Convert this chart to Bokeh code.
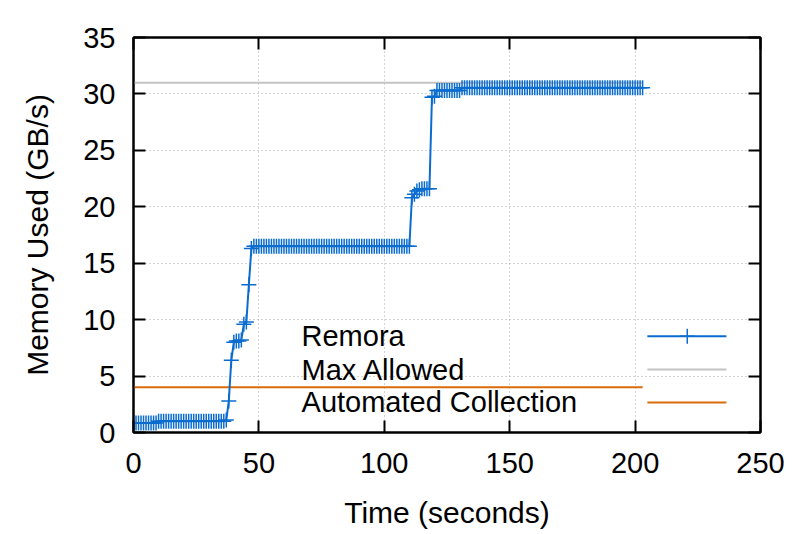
from bokeh.plotting import figure
from bokeh.models import LinearAxis, FixedTicker, Range1d
from bokeh.embed import file_html
from bokeh.resources import INLINE

# ---- data ----
time_s = list(range(0, 204))
remora = [
    0.85, 0.85, 0.85, 0.85, 0.85, 0.85, 0.85, 0.85, 0.85, 0.85,
    1.0, 1.0, 1.0, 1.0, 1.0, 1.0, 1.0, 1.0, 1.0, 1.0,
    1.0, 1.0, 1.0, 1.0, 1.0, 1.0, 1.0, 1.0, 1.0, 1.0,
    1.0, 1.0, 1.0, 1.0, 1.0, 1.0, 1.0, 1.1, 2.8, 6.4,
    8.0, 8.1, 8.1, 8.2, 9.6, 9.8, 13.1, 16.3, 16.5, 16.5,
    16.5, 16.5, 16.5, 16.5, 16.5, 16.5, 16.5, 16.5, 16.5, 16.5,
    16.5, 16.5, 16.5, 16.5, 16.5, 16.5, 16.5, 16.5, 16.5, 16.5,
    16.5, 16.5, 16.5, 16.5, 16.5, 16.5, 16.5, 16.5, 16.5, 16.5,
    16.5, 16.5, 16.5, 16.5, 16.5, 16.5, 16.5, 16.5, 16.5, 16.5,
    16.5, 16.5, 16.5, 16.5, 16.5, 16.5, 16.5, 16.5, 16.5, 16.5,
    16.5, 16.5, 16.5, 16.5, 16.5, 16.5, 16.5, 16.5, 16.5, 16.5,
    16.5, 20.8, 21.1, 21.4, 21.5, 21.6, 21.6, 21.6, 21.6, 29.7,
    29.8, 30.3, 30.3, 30.3, 30.3, 30.3, 30.3, 30.3, 30.3, 30.3,
    30.3, 30.55, 30.55, 30.55, 30.55, 30.55, 30.55, 30.55, 30.55, 30.55,
    30.55, 30.55, 30.55, 30.55, 30.55, 30.55, 30.55, 30.55, 30.55, 30.55,
    30.55, 30.55, 30.55, 30.55, 30.55, 30.55, 30.55, 30.55, 30.55, 30.55,
    30.55, 30.55, 30.55, 30.55, 30.55, 30.55, 30.55, 30.55, 30.55, 30.55,
    30.55, 30.55, 30.55, 30.55, 30.55, 30.55, 30.55, 30.55, 30.55, 30.55,
    30.55, 30.55, 30.55, 30.55, 30.55, 30.55, 30.55, 30.55, 30.55, 30.55,
    30.55, 30.55, 30.55, 30.55, 30.55, 30.55, 30.55, 30.55, 30.55, 30.55,
    30.55, 30.55, 30.55, 30.55,
]
max_allowed = 31.0
automated_collection = 4.0
x_ticks = [0, 50, 100, 150, 200, 250]
y_ticks = [0, 5, 10, 15, 20, 25, 30, 35]
series_names = ["Remora", "Max Allowed", "Automated Collection"]

# ---- styles ----
FONT = "Liberation Sans"
BLUE = "#0b6ccf"
GRAY = "#c3c3c3"
ORANGE = "#d86c0a"

p = figure(width=799, height=534, output_backend="svg", toolbar_location=None,
           x_range=Range1d(0, 250), y_range=Range1d(0, 35),
           min_border_left=133, min_border_right=39, min_border_top=37,
           min_border_bottom=102)
p.background_fill_color = "white"
p.border_fill_color = "white"
p.outline_line_color = "black"
p.outline_line_width = 2

xt = FixedTicker(ticks=x_ticks)
yt = FixedTicker(ticks=y_ticks)

def style_axis(ax, show_labels):
    ax.axis_line_color = "black"
    ax.axis_line_width = 2
    ax.major_tick_line_color = "black"
    ax.major_tick_line_width = 2
    ax.major_tick_in = 12
    ax.major_tick_out = 0
    ax.minor_tick_line_color = None
    ax.major_label_text_font = FONT
    ax.axis_label_text_font = FONT
    ax.axis_label_text_font_style = "normal"
    ax.axis_label_text_color = "black"
    if show_labels:
        ax.major_label_text_color = "black"
        ax.major_label_text_font_size = "29px"
        ax.axis_label_text_font_size = "30px"
    else:
        ax.major_label_text_color = None
        ax.major_label_text_font_size = "10px"
        ax.major_label_standoff = 0

p.xaxis.ticker = xt
p.yaxis.ticker = yt
style_axis(p.xaxis[0], True)
style_axis(p.yaxis[0], True)
p.xaxis.axis_label = "Time (seconds)"
p.yaxis.axis_label = "Memory Used (GB/s)"
p.xaxis.major_label_standoff = 20
p.xaxis.axis_label_standoff = 20
p.yaxis.major_label_standoff = 18
p.yaxis.axis_label_standoff = 26

top = LinearAxis(ticker=xt)
style_axis(top, False)
p.add_layout(top, "above")
right = LinearAxis(ticker=yt)
style_axis(right, False)
p.add_layout(right, "right")

for g, tk in ((p.xgrid, xt), (p.ygrid, yt)):
    g.ticker = tk
    g.grid_line_color = "#a8a8a8"
    g.grid_line_dash = "1 3"
    g.grid_line_width = 1

# reference lines
t0, t1 = time_s[0], time_s[-1]
p.line([t0, t1], [max_allowed, max_allowed], line_color=GRAY, line_width=2)
p.line([t0, t1], [automated_collection, automated_collection],
       line_color=ORANGE, line_width=2)

# Remora series
p.line(time_s, remora, line_color=BLUE, line_width=2)
p.scatter(time_s, remora, marker="cross", size=15, line_color=BLUE,
          line_width=1.5)

# legend (gnuplot style: text on left, sample on right)
leg_y = [8.53, 5.58, 2.66]
p.text(x=[67, 67, 67], y=leg_y, text=series_names,
       text_font={"value": FONT}, text_font_size="29px",
       text_baseline="middle", text_align="left", text_color="black")
colors = [BLUE, GRAY, ORANGE]
for yy, c in zip(leg_y, colors):
    p.line([204.9, 236.4], [yy, yy], line_color=c, line_width=2)
p.scatter([220.8], [leg_y[0]], marker="cross", size=15, line_color=BLUE,
          line_width=1.5)

open("out.html", "w").write(file_html(p, INLINE))
